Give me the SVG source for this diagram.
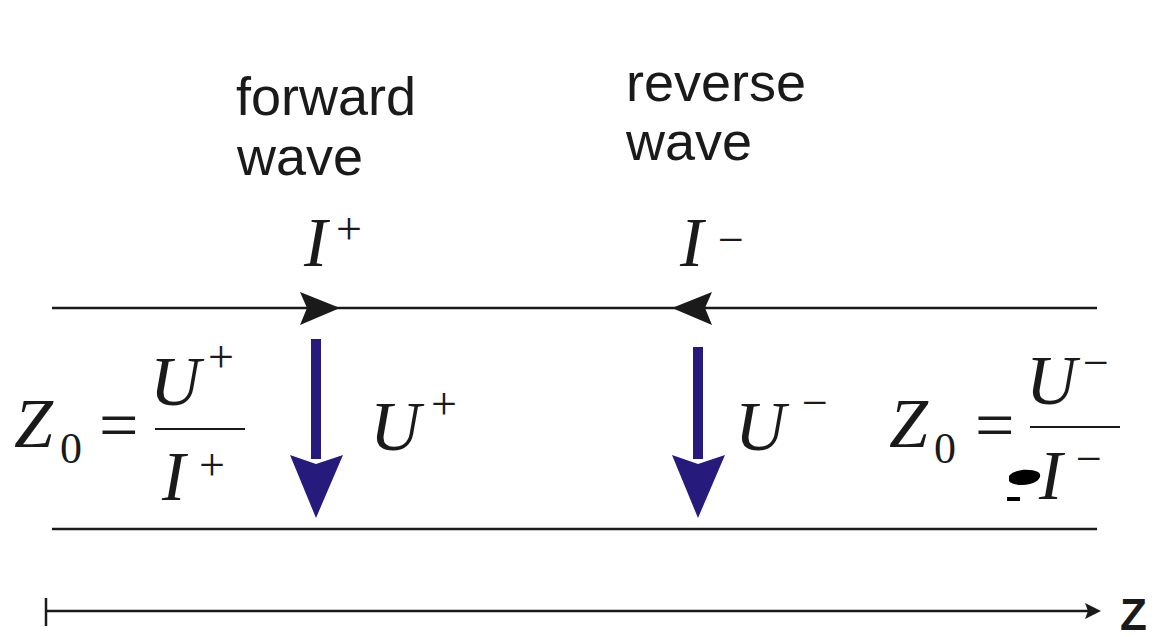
<svg xmlns="http://www.w3.org/2000/svg" width="1156" height="637" viewBox="0 0 1156 637">
<style>
.lbl{font-family:"Liberation Sans",Arial,sans-serif;font-size:54px;fill:#1a1a1a}
.m{font-family:"Liberation Serif","Times New Roman",serif;font-style:italic;font-size:70px;fill:#1a1a1a}
.mr{font-family:"Liberation Serif","Times New Roman",serif;font-size:70px;fill:#1a1a1a}
.sup{font-family:"Liberation Serif","Times New Roman",serif;font-size:46px;fill:#1a1a1a}
.sub{font-family:"Liberation Serif","Times New Roman",serif;font-size:44px;fill:#1a1a1a}
.ln{stroke:#1a1a1a;stroke-width:2.5;fill:none}
.bar{stroke:#1a1a1a;stroke-width:2;fill:none}
.blue{fill:#261b7d}
.head{fill:#1a1a1a}
</style>
<rect width="1156" height="637" fill="#ffffff"/>
<g id="connectors">
  <line class="ln" x1="52" y1="308" x2="1097" y2="308"/>
  <line class="ln" x1="52" y1="529" x2="1097" y2="529"/>
  <path class="head" d="M300,292 L340,308 L300,325 L307,308 Z"/>
  <path class="head" d="M712,292 L672,308 L712,325 L705,308 Z"/>
  <g id="arrow-uplus">
    <rect class="blue" x="311" y="339" width="10" height="120"/>
    <path class="blue" d="M290,455 L316,464 L343,455 L316,518 Z"/>
  </g>
  <g id="arrow-uminus">
    <rect class="blue" x="693" y="347" width="10" height="112"/>
    <path class="blue" d="M672,455 L698,464 L725,455 L698,518 Z"/>
  </g>
  <g id="z-axis">
    <line class="ln" x1="46" y1="611" x2="1090" y2="611"/>
    <line class="ln" x1="46" y1="598" x2="46" y2="626"/>
    <path class="head" d="M1085,603 L1101,611 L1085,619 L1088,611 Z"/>
  </g>
</g>
<g id="forward-label">
  <text class="lbl" x="236" y="115">forward</text>
  <text class="lbl" x="237" y="175">wave</text>
</g>
<g id="reverse-label">
  <text class="lbl" x="626" y="101">reverse</text>
  <text class="lbl" x="626" y="160">wave</text>
</g>
<g id="i-plus">
  <text class="m" x="304" y="266" font-size="60">I</text>
  <text class="sup" x="336" y="244" font-size="40">+</text>
</g>
<g id="i-minus">
  <text class="m" x="680" y="266" font-size="60">I</text>
  <text class="sup" x="718" y="255" font-size="40">−</text>
</g>
<g id="z0-left">
  <text class="m" x="14" y="447">Z</text>
  <text class="sub" x="60" y="463">0</text>
  <text class="mr" x="99" y="449">=</text>
  <line class="bar" x1="155" y1="429" x2="245" y2="429"/>
  <text class="m" x="150" y="405">U</text>
  <text class="sup" x="208" y="372">+</text>
  <text class="m" x="162" y="500">I</text>
  <text class="sup" x="199" y="480">+</text>
</g>
<g id="u-plus">
  <text class="m" x="370" y="450">U</text>
  <text class="sup" x="431" y="419">+</text>
</g>
<g id="u-minus">
  <text class="m" x="735" y="450">U</text>
  <text class="sup" x="802" y="418">−</text>
</g>
<g id="z0-right">
  <text class="m" x="889" y="447">Z</text>
  <text class="sub" x="934" y="463">0</text>
  <text class="mr" x="975" y="449">=</text>
  <line class="bar" x1="1030" y1="427" x2="1120" y2="427"/>
  <text class="m" x="1026" y="404">U</text>
  <text class="sup" x="1083" y="378">−</text>
  <text class="m" x="1039" y="499">I</text>
  <text class="sup" x="1076" y="474">−</text>
  <path fill="#000" d="M1009,476 C1014,469 1030,468 1038,472 C1043,475 1039,482 1030,484 C1022,486 1012,485 1009,481 Z"/>
  <rect x="1007" y="497" width="13" height="4" fill="#000"/>
</g>
<text x="1120" y="630" font-family="'Liberation Sans',Arial,sans-serif" font-weight="bold" font-size="44" fill="#1a1a1a">Z</text>
</svg>
